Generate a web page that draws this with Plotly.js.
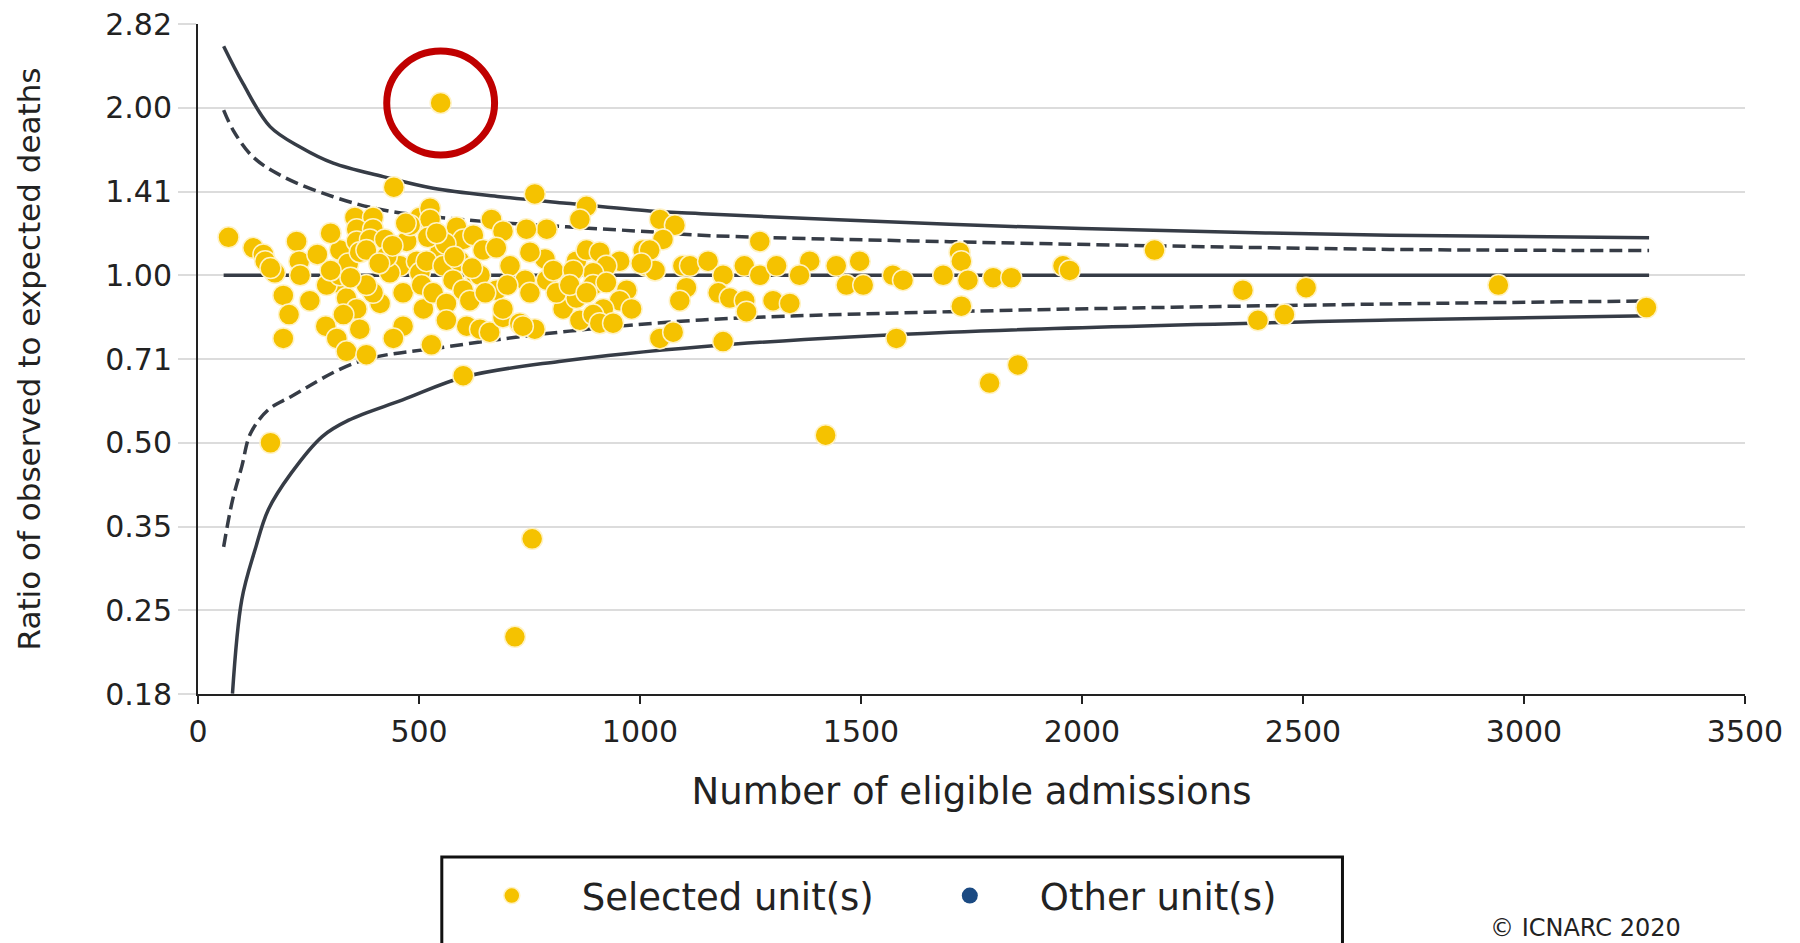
<!DOCTYPE html>
<html>
<head>
<meta charset="utf-8">
<script src="https://cdn.plot.ly/plotly-3.0.1.min.js"></script>
<style>html,body{margin:0;padding:0;background:#fff;}#chart{width:1800px;height:943px;}</style>
</head>
<body>
<div id="chart"></div>
<script>
// ---- Data ----
// Units: number of eligible admissions (x) and observed/expected ratio (y)
const unitAdmissions = [
  69,125,148,152,174,164,223,229,231,193,253,206,193,289,321,314,336,381,314,291,
  321,340,355,396,443,359,359,366,396,389,381,423,336,359,329,366,412,396,381,464,
  442,464,472,457,434,427,495,502,506,510,502,525,164,549,
  525,762,879,864,585,664,690,789,743,600,623,547,517,555,592,645,675,706,785,751,
  626,675,638,577,532,562,600,615,562,608,638,660,690,690,728,762,740,751,789,804,
  826,811,856,864,856,879,909,954,924,894,894,924,970,954,917,894,909,939,981,1007,
  1014,528,600,735,756,717,
  1045,1079,1052,1022,1034,1003,1097,1113,1105,1090,1154,1188,1177,1203,1237,1241,
  1271,1236,1271,1309,1301,1339,1384,1361,1444,1467,1497,1505,1572,1595,1686,
  1045,1075,1188,1580,849,841,879,1420,1723,1727,1742,1799,1840,1727,1957,1972,
  2164,2364,2507,2398,2458,1791,1855,2942,3277,
  300,345,410,300,270,440,480,520,560,620,700,540,650,580,470
];
const unitRatio = [
  1.17,1.12,1.09,1.06,1.01,1.03,1.15,1.06,1.00,0.92,0.90,0.85,0.77,0.81,1.11,0.77,0.73,0.72,0.97,0.96,
  1.00,1.05,1.27,1.27,1.44,1.21,1.15,1.10,1.21,1.16,1.11,1.16,0.91,0.87,0.85,0.80,0.89,0.93,0.96,0.81,
  0.77,0.93,1.15,1.04,1.01,1.08,1.06,1.01,0.96,0.87,1.27,1.32,0.50,2.04,
  1.26,1.40,1.33,1.26,1.22,1.26,1.20,1.21,1.21,1.16,1.18,1.10,1.06,1.04,1.06,1.11,1.12,1.04,1.07,1.10,
  1.01,0.94,1.00,0.98,0.93,0.89,0.94,0.90,0.83,0.81,0.80,0.79,0.84,0.87,0.82,0.80,0.98,0.93,0.98,1.02,
  0.87,0.93,0.91,0.83,1.06,1.11,1.10,1.06,1.04,1.01,0.96,0.97,0.94,0.90,0.87,0.85,0.82,0.82,0.87,1.11,
  1.04,0.75,0.66,0.81,0.336,0.224,
  1.26,1.23,1.16,1.11,1.02,1.05,1.04,1.04,0.95,0.90,1.06,1.00,0.93,0.91,0.90,0.86,
  1.15,1.04,1.00,1.04,0.90,0.89,1.06,1.00,1.04,0.96,1.06,0.96,1.00,0.98,1.00,
  0.77,0.79,0.76,0.77,1.02,0.96,0.93,0.516,1.10,1.06,0.98,0.99,0.99,0.88,1.04,1.02,
  1.11,0.94,0.95,0.83,0.85,0.64,0.69,0.96,0.875,
  1.02,0.99,1.05,1.19,1.09,1.13,1.23,1.17,1.14,1.03,0.96,1.19,0.93,1.08,1.24
];

// Control limits (funnel)
const outerUpperX = [58,102,163,231,306,419,532,683,834,1022,1139,1700,2000,2696,3283];
const outerUpperY = [2.58,2.21,1.85,1.70,1.59,1.504,1.433,1.384,1.347,1.305,1.29,1.235,1.213,1.18,1.168];
const innerUpperX = [58,80,125,193,306,419,608,834,1022,1139,1700,2696,3283];
const innerUpperY = [1.98,1.82,1.63,1.503,1.384,1.31,1.257,1.222,1.197,1.18,1.149,1.113,1.108];
const centreX = [58,3283];
const centreY = [1.0,1.0];
const innerLowerX = [58,78,99,119,159,210,362,564,817,1139,1700,2696,3283];
const innerLowerY = [0.325,0.394,0.453,0.52,0.573,0.605,0.699,0.744,0.79,0.831,0.86,0.888,0.899];
const outerLowerX = [78,99,129,159,210,281,341,463,604,817,1139,1700,2696,3283];
const outerLowerY = [0.177,0.261,0.321,0.379,0.44,0.513,0.549,0.597,0.657,0.70,0.744,0.79,0.831,0.846];

// Axis ticks
const yTickVals = [0.1767767,0.25,0.3535534,0.5,0.7071068,1,1.4142136,2,2.8284271];
const yTickText = ['0.18','0.25','0.35','0.50','0.71','1.00','1.41','2.00','2.82'];
const xTickVals = [0,500,1000,1500,2000,2500,3000,3500];
const xTickText = ['0','500','1000','1500','2000','2500','3000','3500'];

// Highlighted unit
const highlightX = 549, highlightY = 2.04;

// ---- Chart ----
const FONT = 'DejaVu Sans, Arial, sans-serif';
const lineColor = '#363c46';
const traces = [
  {x: outerUpperX, y: outerUpperY, mode:'lines', line:{color:lineColor, width:3.5, shape:'spline'}, showlegend:false, hoverinfo:'skip'},
  {x: innerUpperX, y: innerUpperY, mode:'lines', line:{color:lineColor, width:3.5, dash:'13px,6px', shape:'spline'}, showlegend:false, hoverinfo:'skip'},
  {x: centreX, y: centreY, mode:'lines', line:{color:lineColor, width:3.5}, showlegend:false, hoverinfo:'skip'},
  {x: innerLowerX, y: innerLowerY, mode:'lines', line:{color:lineColor, width:3.5, dash:'13px,6px', shape:'spline'}, showlegend:false, hoverinfo:'skip'},
  {x: outerLowerX, y: outerLowerY, mode:'lines', line:{color:lineColor, width:3.5, shape:'spline'}, showlegend:false, hoverinfo:'skip'},
  {x: unitAdmissions, y: unitRatio, mode:'markers', name:'Selected unit(s)',
   marker:{color:'#F5C200', size:21, line:{color:'#FFF2C4', width:1.5}}},
  {x: [null], y: [null], mode:'markers', name:'Other unit(s)',
   marker:{color:'#1B4A82', size:21}}
];

// ring around the highlighted unit: half-width in x units, multiplicative half-height on the log axis
const ringHalfX = 122, ringFactor = 1.24;

const layout = {
  width:1800, height:943,
  margin:{l:198, r:55, t:24, b:249, pad:0},
  paper_bgcolor:'#ffffff', plot_bgcolor:'#ffffff',
  font:{family:FONT, color:'#222'},
  showlegend:true,
  xaxis:{
    range:[0,3500], tickvals:xTickVals, ticktext:xTickText,
    showgrid:false, zeroline:false,
    showline:true, linecolor:'#222', linewidth:2,
    ticks:'outside', ticklen:8, tickwidth:2, tickcolor:'#222',
    ticklabelstandoff:2,
    tickfont:{size:30, family:FONT, color:'#222'},
    title:{text:'Number of eligible admissions', font:{size:37, family:FONT, color:'#222'}, standoff:30}
  },
  yaxis:{
    type:'log',
    range:[Math.log10(yTickVals[0]), Math.log10(yTickVals[yTickVals.length-1])],
    tickvals:yTickVals, ticktext:yTickText,
    showgrid:true, gridcolor:'#dcdcdc', gridwidth:2, zeroline:false,
    showline:true, linecolor:'#222', linewidth:2,
    ticks:'outside', ticklen:18, tickwidth:2, tickcolor:'#dcdcdc',
    tickfont:{size:30, family:FONT, color:'#222'},
    title:{text:'Ratio of observed to expected deaths', font:{size:31, family:FONT, color:'#222'}, standoff:55}
  },
  legend:{
    orientation:'h', x:0.1576, xanchor:'left', y:-0.2552, yanchor:'top',
    borderwidth:0, bgcolor:'rgba(0,0,0,0)',
    font:{size:37, family:FONT, color:'#222'},
    itemwidth:130, entrywidthmode:'pixels', entrywidth:313
  },
  shapes:[{
    type:'circle', xref:'x', yref:'y',
    x0:highlightX-ringHalfX, x1:highlightX+ringHalfX,
    y0:highlightY/ringFactor, y1:highlightY*ringFactor,
    line:{color:'#C00000', width:7}
  },{
    // legend frame, running past the bottom edge as in the reference
    type:'rect', xref:'paper', yref:'paper', layer:'below',
    x0:0.1576, x1:0.7398, y0:-0.2433, y1:-0.45,
    line:{color:'#111', width:3}, fillcolor:'rgba(0,0,0,0)'
  }],
  annotations:[{
    xref:'paper', yref:'paper', x:0.834, y:-0.3254, xanchor:'left', yanchor:'top',
    text:'© ICNARC 2020', showarrow:false, font:{size:24, family:FONT, color:'#222'}
  }]
};

Plotly.newPlot('chart', traces, layout, {displayModeBar:false, staticPlot:true});
</script>
</body>
</html>
